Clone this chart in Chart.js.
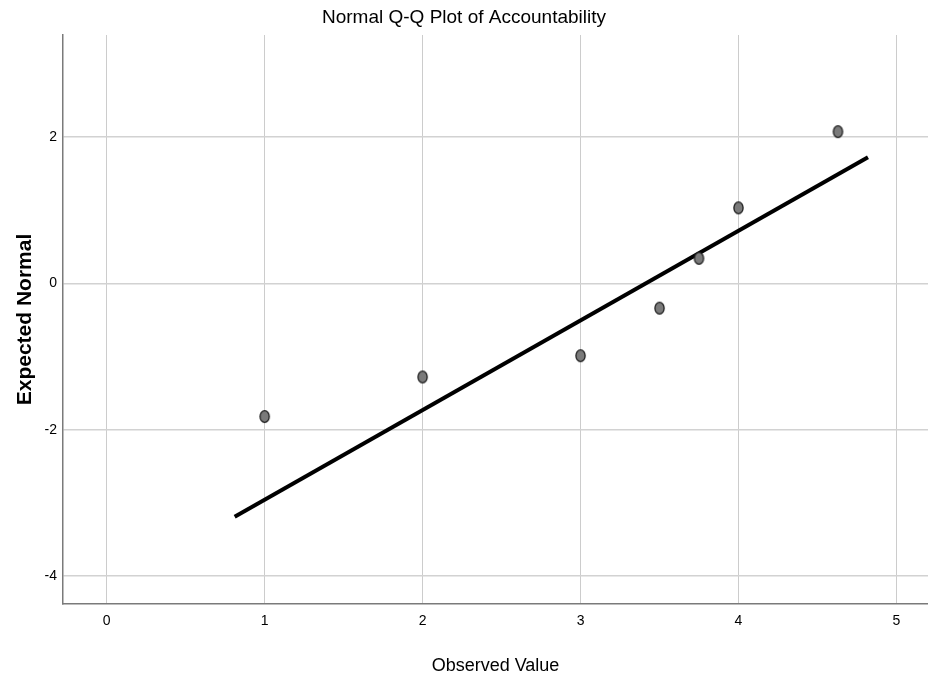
<!DOCTYPE html>
<html>
<head>
<meta charset="utf-8">
<script src="https://cdn.jsdelivr.net/npm/chart.js@4.4.1/dist/chart.umd.min.js"></script>
<style>
  html, body { margin: 0; padding: 0; background: #ffffff; }
  #c { display: block; }
</style>
</head>
<body>
<canvas id="c" width="928" height="681"></canvas>
<script>
// ---- data ----
const observedValues = [1, 2, 3, 3.5, 3.75, 4, 4.63];
const expectedNormal = [-1.82, -1.28, -0.99, -0.34, 0.34, 1.03, 2.07];
const lineX = [0.81, 4.82];
const lineY = [-3.19, 1.72];
const xTicks = [0, 1, 2, 3, 4, 5];
const yTicks = [-4, -2, 0, 2];
const chartTitle = 'Normal Q-Q Plot of Accountability';
const xTitle = 'Observed Value';
const yTitle = 'Expected Normal';

// elliptical marker (reference image is slightly squeezed horizontally)
function makeMarker() {
  const cv = document.createElement('canvas');
  cv.width = 13; cv.height = 15;
  const g = cv.getContext('2d');
  g.beginPath();
  g.ellipse(6.5, 7.5, 4.6, 5.9, 0, 0, Math.PI * 2);
  g.fillStyle = '#7a7a7a';
  g.fill();
  g.lineWidth = 1.3;
  g.strokeStyle = '#1e1e1e';
  g.stroke();
  return cv;
}
const marker = makeMarker();

const sans = "'Liberation Sans', Arial, sans-serif";

new Chart(document.getElementById('c'), {
  type: 'scatter',
  data: {
    datasets: [
      {
        type: 'line',
        data: lineX.map((x, i) => ({ x: x, y: lineY[i] })),
        borderColor: '#000000',
        borderWidth: 4,
        pointRadius: 0,
        pointHoverRadius: 0,
        fill: false,
        order: 2
      },
      {
        data: observedValues.map((x, i) => ({ x: x, y: expectedNormal[i] })),
        pointStyle: marker,
        pointRadius: 6,
        order: 1
      }
    ]
  },
  options: {
    responsive: false,
    animation: false,
    devicePixelRatio: 1,
    layout: { autoPadding: false, padding: { left: 0, right: 0, top: 0, bottom: 0 } },
    plugins: {
      legend: { display: false },
      tooltip: { enabled: false },
      title: {
        display: true,
        text: chartTitle,
        color: '#000000',
        font: { family: sans, size: 19, weight: 'normal' },
        padding: { top: 6.1, bottom: 6.1 }
      }
    },
    scales: {
      x: {
        type: 'linear',
        min: -0.277,
        max: 5.2,
        afterBuildTicks: s => { s.ticks = xTicks.map(v => ({ value: v })); },
        afterFit: s => { s.height = 77; s.paddingLeft = 0; s.paddingRight = 0; },
        grid: { color: '#cccccc', lineWidth: 1, drawTicks: false },
        border: { display: true, color: '#7a7a7a', width: 1.5 },
        ticks: { color: '#000000', font: { family: sans, size: 14 }, padding: 9, maxRotation: 0 },
        title: {
          display: true,
          text: xTitle,
          color: '#000000',
          font: { family: sans, size: 18, weight: 'normal' },
          padding: { top: 0, bottom: 4.6 }
        }
      },
      y: {
        type: 'linear',
        min: -4.38,
        max: 3.39,
        afterBuildTicks: s => { s.ticks = yTicks.map(v => ({ value: v })); },
        afterFit: s => { s.width = 63; s.paddingTop = 0; s.paddingBottom = 0; },
        grid: { color: '#d2d2d2', lineWidth: 1.5, drawTicks: false },
        border: { display: true, color: '#7a7a7a', width: 1.5 },
        ticks: { color: '#000000', font: { family: sans, size: 14 }, padding: 6 },
        title: {
          display: true,
          text: yTitle,
          color: '#000000',
          font: { family: sans, size: 21, weight: 'bold' },
          padding: { top: 13, bottom: 0 }
        }
      }
    }
  }
});
</script>
</body>
</html>
